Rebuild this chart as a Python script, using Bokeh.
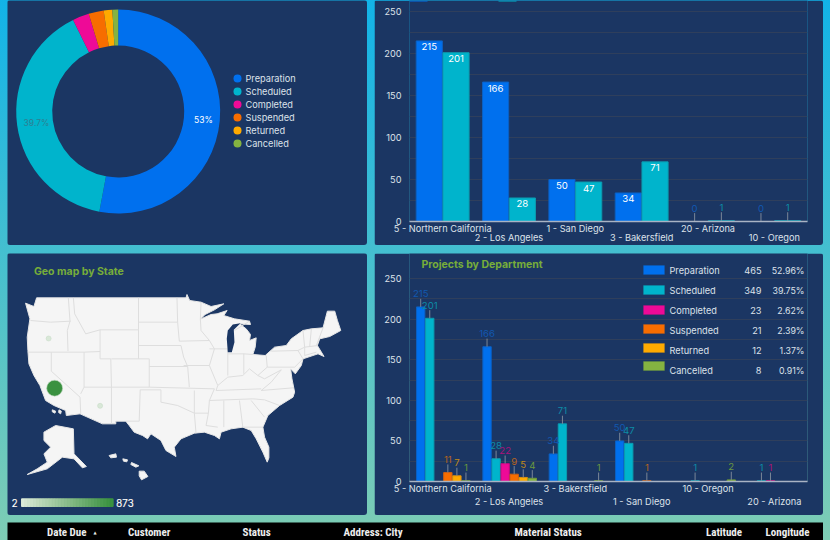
from bokeh.plotting import figure
from bokeh.layouts import column, row
from bokeh.models import (Range1d, FixedTicker, Label, LabelSet, BoxAnnotation, ColumnDataSource, AllLabels, LinearAxis)
from bokeh.core.properties import value
from bokeh.embed import file_html
from bokeh.resources import INLINE
import math

FONT = "Inter"
PANEL = "#1b3663"
TXT = "#dde2ea"
HEAD_FONT = "Roboto Condensed, Noto Sans Condensed, Roboto"

status = ["Preparation", "Scheduled", "Completed", "Suspended", "Returned", "Cancelled"]
totals = [465, 349, 23, 21, 12, 8]
percents = ["52.96%", "39.75%", "2.62%", "2.39%", "1.37%", "0.91%"]
colors = ["#0070ee", "#00b4cc", "#ee0a97", "#f76d00", "#ffaa00", "#84b341"]
edges = ["#0b60c4", "#0b9cb0", "#c40a80", "#d06010", "#d89010", "#6f9a38"]
dim = ["#1258b0", "#0d8ca6", "#a8127a", "#b8641e", "#c08a18", "#6a963e"]

dept_top = ["5 - Northern California", "2 - Los Angeles", "1 - San Diego", "3 - Bakersfield", "20 - Arizona", "10 - Oregon"]
prep_top = [215, 166, 50, 34, 0, 0]
sched_top = [201, 28, 47, 71, 1, 1]

dept_bot = ["5 - Northern California", "2 - Los Angeles", "3 - Bakersfield", "1 - San Diego", "10 - Oregon", "20 - Arizona"]
prep_bot = [215, 166, 34, 50, 0, 0]
sched_bot = [201, 28, 71, 47, 1, 1]
comp_bot = [0, 22, 0, 0, 0, 1]
susp_bot = [11, 9, 0, 1, 0, 0]
ret_bot = [7, 5, 0, 0, 0, 0]
canc_bot = [1, 4, 1, 0, 2, 0]

y_ticks = [0, 50, 100, 150, 200, 250]
grid_ticks = [0, 25, 50, 75, 100, 125, 150, 175, 200, 225, 250]

table_headers = ["Date Due", "Customer", "Status", "Address: City", "Material Status", "Latitude", "Longitude"]
table_x = [46.5, 127.5, 242, 343, 514, 705.5, 765]

# map outlines
us_outline = [(75,158),(100,168),(108,142),(555,142),(558,132),(566,150),(600,155),(630,168),(668,160),(640,178),(612,192),(598,206),(630,192),(648,190),(678,180),(668,195),(700,205),(745,212),(748,222),(715,220),(735,235),(748,252),(745,270),(765,262),(762,290),(755,312),(792,315),(820,290),(855,285),(870,265),(905,240),(930,235),(965,232),(978,182),(1000,182),(1008,210),(1018,240),(985,258),(955,265),(948,285),(968,318),(950,310),(905,325),(900,345),(882,370),(868,355),(872,385),(880,425),(875,440),(835,465),(800,495),(785,530),(790,560),(803,590),(803,622),(798,635),(785,605),(765,565),(750,540),(725,530),(690,535),(660,545),(655,565),(640,555),(610,545),(580,548),(540,565),(520,590),(525,618),(495,600),(480,570),(450,550),(440,565),(425,555),(400,545),(385,525),(375,512),(345,512),(345,520),(305,520),(238,490),(197,495),(195,480),(160,465),(135,450),(118,405),(100,375),(85,340),(82,300),(80,260),(88,205)]
lake_michigan = [(680,305),(677,265),(680,240),(695,222),(718,218),(698,238),(700,275),(692,305)]
alaska = [(130,545),(165,525),(218,535),(220,610),(257,648),(245,652),(220,625),(185,620),(140,655),(80,672),(110,655),(140,635),(130,610),(150,590),(130,570)]
hawaii = [[(415,662),(430,662),(441,678),(422,688),(415,676)],[(392,636),(414,646),(405,650),(390,642)],[(366,625),(380,628),(378,634),(368,632)],[(325,615),(345,610),(347,620),(330,622)]]
islands = [[(155,478),(165,482),(163,488),(155,484)],[(175,478),(182,482),(180,490),(174,486)]]
borders = [
 [(90,210),(150,215),(210,212)],[(203,142),(208,212),(200,240),(202,302)],[(82,305),(250,305),(298,303)],
 [(152,305),(152,362),(238,440),(240,490)],[(250,305),(250,410),(240,430)],[(298,238),(298,325),(330,325),(332,410),(250,410)],
 [(332,410),(332,520)],[(332,325),(445,325),(445,410),(332,410)],[(298,238),(413,238),(413,325)],
 [(218,142),(222,190),(255,250),(298,238)],[(413,142),(413,238)],[(413,215),(530,215)],[(413,285),(540,285)],
 [(528,142),(530,215),(535,272),(625,270),(640,295),(625,345),(650,405),(645,420)],[(600,155),(598,206),(600,240),(625,270)],
 [(445,348),(560,348),(565,410)],[(540,285),(548,320),(560,348)],[(445,410),(640,415)],[(548,345),(625,345)],
 [(418,418),(415,512),(375,512)],[(418,418),(480,418),(480,455),(530,465),(580,488),(580,420)],[(580,488),(622,488)],[(580,488),(585,548)],
 [(622,488),(615,525),(650,530)],[(625,450),(622,488)],[(668,450),(668,530)],[(715,450),(725,530),(785,530)],[(645,420),(780,415)],[(625,450),(755,445)],
 [(640,415),(625,450)],[(750,450),(790,500)],[(755,445),(790,448),(835,465)],[(780,420),(875,412)],
 [(650,405),(680,380),(725,375),(745,355),(770,375)],[(625,295),(680,295),(680,375)],[(680,310),(728,310),(728,370)],[(728,310),(755,312)],
 [(795,315),(798,350),(770,375)],[(810,302),(890,300),(905,325),(880,350),(798,350)],[(770,375),(790,385),(840,358)],[(780,420),(810,395),(840,358)],
 [(905,240),(910,290)],[(930,235),(925,288)],[(965,232),(945,285)],[(910,290),(950,285)],[(910,315),(945,305)],[(890,300),(910,290),(910,315)],
 [(745,212),(700,240)],
]
map_points_x = [162, 144, 298]
map_points_y = [413, 264, 466]
map_points_size = [16, 5, 5]
map_points_color = ["#3a9140", "#d9e8d8", "#d9e8d8"]
scale_labels = ["2", "873"]


def label_opts(size, color=TXT, style="normal"):
    return dict(text_font=FONT, text_font_size=size, text_color=color, text_font_style=style)


def glyph_opts(size, color=TXT, style="normal"):
    return dict(text_font=value(FONT), text_font_size=value(size), text_color=color, text_font_style=style)


def panel_fig(w, h, xr, yr, margin):
    p = figure(width=w, height=h, x_range=xr, y_range=yr, output_backend="svg", toolbar_location=None,
               x_axis_location=None, y_axis_location=None, background_fill_color=PANEL, border_fill_color=PANEL,
               outline_line_color=None, min_border=0, margin=margin, frame_align=False,
               styles={"border-radius": "3px", "overflow": "hidden"})
    p.grid.visible = False
    return p


def stagger_axis(p, xs, labels, standoff, line):
    ax = LinearAxis(ticker=FixedTicker(ticks=xs), major_label_overrides=dict(zip(xs, labels)),
                    major_label_policy=AllLabels(), major_tick_line_color=None, minor_tick_line_color=None,
                    major_tick_in=0, major_tick_out=0, minor_tick_in=0, minor_tick_out=0,
                    axis_line_color=line, axis_line_width=1.5, major_label_text_font=FONT,
                    major_label_text_font_size="9.2px", major_label_text_color=TXT, major_label_standoff=standoff)
    p.add_layout(ax, "below")


def bar_fig(depts, h, margin, ymax, bottom, second_standoff):
    p = figure(width=449, height=h, x_range=Range1d(0, 6), y_range=Range1d(0, ymax), output_backend="svg",
               toolbar_location=None, background_fill_color=PANEL, border_fill_color=PANEL, outline_line_color=None,
               x_axis_location=None, min_border_left=35, min_border_right=16, min_border_top=0, min_border_bottom=bottom,
               margin=margin, frame_align=False, styles={"border-radius": "3px", "overflow": "hidden"})
    p.ygrid.ticker = FixedTicker(ticks=grid_ticks)
    p.ygrid.grid_line_color = "#2f3f5c"
    p.yaxis.ticker = FixedTicker(ticks=y_ticks)
    p.yaxis.axis_line_color = None
    p.yaxis.major_tick_line_color = None
    p.yaxis.minor_tick_line_color = None
    p.yaxis.major_tick_in = 0
    p.yaxis.major_tick_out = 0
    p.yaxis.major_label_text_font = FONT
    p.yaxis.major_label_text_font_size = "9.2px"
    p.yaxis.major_label_text_color = TXT
    p.yaxis.major_label_standoff = 8
    xs = [i + 0.5 for i in range(6)]
    stagger_axis(p, xs[0::2], depts[0::2], 1, "#a9b3c4")
    stagger_axis(p, xs[1::2], depts[1::2], second_standoff, None)
    p.xgrid.visible = False
    return p


# ---------- donut ----------
a = panel_fig(360, 245, Range1d(7, 367), Range1d(245, 0), (0, 0, 0, 7))
cum = 0
total = sum(totals)
starts, ends = [], []
for v in totals:
    starts.append(math.pi / 2 - cum / total * 2 * math.pi)
    cum += v
    ends.append(math.pi / 2 - cum / total * 2 * math.pi)
a.annular_wedge(x=117.7, y=111, inner_radius=66, outer_radius=102, start_angle=starts, end_angle=ends,
                fill_color=colors, line_color=None, direction="clock")
a.add_layout(Label(x=203, y=119, text="53%", text_align="center", text_baseline="middle", **label_opts("8.5px", "#ffffff")))
a.add_layout(Label(x=36, y=122, text="39.7%", text_align="center", text_baseline="middle", **label_opts("8.5px", "#2e7f93")))
leg_y = [78, 91, 104, 117, 130, 143]
a.scatter(x=[237] * 6, y=leg_y, size=8, fill_color=colors, line_color=None)
a.text(x=[245] * 6, y=leg_y, text=status, text_baseline="middle", **glyph_opts("9.2px"))

# ---------- top bars ----------
b = bar_fig(dept_top, 245, (0, 0, 0, 7), 220.7 / 209.7 * 250, 24, -5)
b.extra_x_ranges["px"] = Range1d(409, 807)
b.extra_y_ranges["px"] = Range1d(221, 0)
xc = [i + 0.5 for i in range(6)]
bw = 0.394
for off, vals, ci in [(-0.2015, prep_top, 0), (0.2015, sched_top, 1)]:
    x = [c + off for c in xc]
    b.vbar(x=x, top=vals, width=bw, fill_color=colors[ci], line_color=edges[ci])
    big = [i for i, v in enumerate(vals) if v > 5]
    small = [i for i, v in enumerate(vals) if v <= 5]
    b.add_layout(LabelSet(source=ColumnDataSource(dict(x=[x[i] for i in big], y=[vals[i] for i in big], t=[str(vals[i]) for i in big])),
                          x="x", y="y", text="t", y_offset=-6, text_align="center", text_baseline="middle",
                          text_font=value(FONT), text_font_size=value("9.6px"), text_color="#ffffff"))
    if small:
        b.segment(x0=[x[i] for i in small], x1=[x[i] for i in small], y0=[vals[i] for i in small], y1=[vals[i] + 10 for i in small], line_color="#7b8798")
        b.add_layout(LabelSet(source=ColumnDataSource(dict(x=[x[i] for i in small], y=[vals[i] for i in small], t=[str(vals[i]) for i in small])),
                              x="x", y="y", text="t", y_offset=13, text_align="center", text_baseline="middle",
                              text_font=value(FONT), text_font_size=value("9.6px"), text_color=dim[ci]))
for k, (l, r) in enumerate([(409, 427), (498, 516)]):
    b.add_layout(BoxAnnotation(left=l, right=r, top=0, bottom=1, x_range_name="px", y_range_name="px", fill_color=colors[k], fill_alpha=1, line_color=None))

# ---------- map ----------
c = panel_fig(360, 262, Range1d(21, 1098), Range1d(795, 9), (8, 0, 0, 7))
land = [us_outline, alaska] + hawaii + islands
c.patches(xs=[[q[0] for q in s] for s in land], ys=[[q[1] for q in s] for s in land], fill_color="#f5f5f5", line_color="#e6e6e6", line_width=1)
c.multi_line(xs=[[q[0] for q in s] for s in borders], ys=[[q[1] for q in s] for s in borders], line_color="#dedede", line_width=1)
c.patch(x=[q[0] for q in lake_michigan], y=[q[1] for q in lake_michigan], fill_color=PANEL, line_color=None)
c.scatter(x=map_points_x, y=map_points_y, size=map_points_size, fill_color=map_points_color, line_color="#c8dcc8", line_width=0.6)
c.add_layout(Label(x=100, y=63, text="Geo map by State", text_baseline="middle", **label_opts("10.5px", "#77ad3a", "bold")))
steps = 30
lo, hi = (220, 235, 216), (58, 145, 64)
for i in range(steps):
    t_ = i / (steps - 1)
    col = "#%02x%02x%02x" % tuple(int(lo[k] + (hi[k] - lo[k]) * t_) for k in range(3))
    c.quad(left=63 + i * 274 / steps, right=63 + (i + 1) * 274 / steps, top=745, bottom=768, fill_color=col, line_color=col, line_width=1)
for lx, txt in zip([42, 372], scale_labels):
    c.add_layout(Label(x=lx + 1.5, y=757, text=txt, text_align="center", text_baseline="middle", **label_opts("10px", "#66707f")))
    c.add_layout(Label(x=lx, y=757, text=txt, text_align="center", text_baseline="middle", **label_opts("10px", "#ffffff")))

# ---------- bottom bars ----------
d = bar_fig(dept_bot, 262, (8, 0, 0, 7), 228 / 203 * 250, 34, -1)
d.extra_x_ranges["px"] = Range1d(409, 807)
d.extra_y_ranges["px"] = Range1d(481, 253)
series = [prep_bot, sched_bot, comp_bot, susp_bot, ret_bot, canc_bot]
slot = 0.1364
for k, vals in enumerate(series):
    idx = [i for i, v in enumerate(vals) if v > 0]
    x = [i + 0.5 + (k - 2.5) * slot + 0.01 for i in idx]
    v = [vals[i] for i in idx]
    d.vbar(x=x, top=v, width=0.126, fill_color=colors[k], line_color=edges[k])
    d.segment(x0=x, x1=x, y0=v, y1=[u + 10 for u in v], line_color="#7b8798")
    d.add_layout(LabelSet(source=ColumnDataSource(dict(x=x, y=v, t=[str(u) for u in v])), x="x", y="y", text="t",
                          y_offset=13, text_align="center", text_baseline="middle",
                          text_font=value(FONT), text_font_size=value("9.6px"), text_color=dim[k]))
d.add_layout(Label(x=421, y=264, x_range_name="px", y_range_name="px", text="Projects by Department", text_baseline="middle", **label_opts("10.5px", "#77ad3a", "bold")))
swatch_y = [269.5, 289.5, 309.5, 328.5, 347.5, 365.5]
row_y = [270, 290, 310, 330, 350, 370]
for k in range(6):
    d.add_layout(BoxAnnotation(left=643, right=664, top=swatch_y[k] - 4.5, bottom=swatch_y[k] + 4.5, x_range_name="px", y_range_name="px",
                               fill_color=colors[k], fill_alpha=1, line_color=edges[k]))
    d.add_layout(Label(x=669, y=row_y[k], x_range_name="px", y_range_name="px", text=status[k], text_baseline="middle", **label_opts("9.2px")))
    d.add_layout(Label(x=761, y=row_y[k], x_range_name="px", y_range_name="px", text=str(totals[k]), text_align="right", text_baseline="middle", **label_opts("9.2px")))
    d.add_layout(Label(x=804, y=row_y[k], x_range_name="px", y_range_name="px", text=percents[k], text_align="right", text_baseline="middle", **label_opts("8.8px")))

# ---------- table header ----------
t = figure(width=816, height=18, x_range=Range1d(7, 823), y_range=Range1d(540, 522), output_backend="svg", toolbar_location=None,
           x_axis_location=None, y_axis_location=None, background_fill_color="#000000", border_fill_color="#000000",
           outline_line_color=None, min_border=0, margin=(7, 0, 0, 7), frame_align=False, styles={"border-radius": "3px 3px 0 0"})
t.grid.visible = False
t.text(x=table_x, y=[532] * len(table_x), text=table_headers, text_baseline="middle",
       text_font=value(HEAD_FONT), text_font_size=value("11px"), text_font_style="bold", text_color="#eeeeee")
t.text(x=[93], y=[532], text=["▲"], text_baseline="middle", text_font=value("DejaVu Sans"), text_font_size=value("4px"), text_color="#eeeeee")

row1 = row(a, b, spacing=0)
row2 = row(c, d, spacing=0)
root = column(row1, row2, t, spacing=0, width=830, height=540,
              styles={"position": "fixed", "left": "0", "top": "0", "width": "830px", "height": "540px",
                      "background": "linear-gradient(180deg,#12b3e8 0%,#7ecdb4 100%)"})
open("out.html", "w").write(file_html(root, INLINE))
